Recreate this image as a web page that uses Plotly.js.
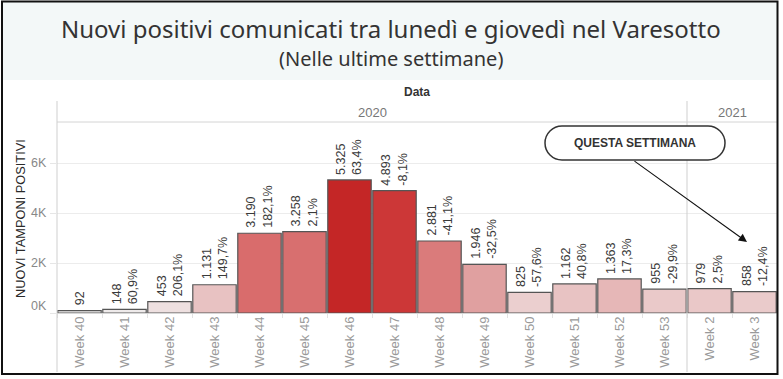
<!DOCTYPE html>
<html>
<head>
<meta charset="utf-8">
<script src="https://cdn.plot.ly/plotly-3.0.1.min.js"></script>
<style>
html,body{margin:0;padding:0;background:#fff;}
#chart{width:783px;height:379px;}
</style>
</head>
<body>
<div id="chart"></div>
<script>
// ---- data ----
const weeks = ['Week 40','Week 41','Week 42','Week 43','Week 44','Week 45','Week 46','Week 47','Week 48','Week 49','Week 50','Week 51','Week 52','Week 53','Week 2','Week 3'];
const positives = [92,148,453,1131,3190,3258,5325,4893,2881,1946,825,1162,1363,955,979,858];
const pctChange = [null,60.9,206.1,149.7,182.1,2.1,63.4,-8.1,-41.1,-32.5,-57.6,40.8,17.3,-29.9,2.5,-12.4];
const years = ['2020','2021'];
const weeksPerYear = [14,2];
const yTickVals = [0,2000,4000,6000];
const yTickText = ['0K','2K','4K','6K'];

// ---- styles ----
const barColors = ['#f1efef','#eeeaea','#eee0e0','#e8c2c2','#d96c6c','#d86f6f','#c42626','#cc3737','#da7b7b','#e0a0a0','#ebcfcf','#e8c3c3','#e6b7b7','#eac9c9','#eac8c8','#eacbcb'];

const W = 783, H = 379;
const M = {l:57, r:6, t:122, b:66};
const plotW = W - M.l - M.r, plotH = H - M.t - M.b;
const px2x = p => (p - M.l) / plotW;
const px2y = p => (H - M.b - p) / plotH;

function fmtInt(v){ return String(v).replace(/\B(?=(\d{3})+(?!\d))/g,'.'); }
function fmtPct(v){ return v.toFixed(1).replace('.',',') + '%'; }

const trace = {
  type:'bar', x:weeks, y:positives,
  marker:{color:barColors, line:{color:'#555555', width:1.2}},
  hoverinfo:'none'
};

const annotations = [];
weeks.forEach((w,i)=>{
  const txt = pctChange[i] === null ? fmtInt(positives[i]) : fmtInt(positives[i]) + '<br>' + fmtPct(pctChange[i]);
  annotations.push({
    x:w, y:positives[i], xref:'x', yref:'y', showarrow:false,
    text:txt, textangle:-90, align:'left', xanchor:'center', yanchor:'bottom', yshift:3,
    font:{size:12.5, color:'#3a3a3a'}
  });
});

// y tick labels (bottom one lifted as in the original)
yTickVals.forEach((v,i)=>{
  annotations.push({x:0, xref:'paper', y:v, yref:'y', text:yTickText[i], showarrow:false,
    xanchor:'right', yanchor:'middle', xshift:-8, yshift: v === 0 ? 7 : 0,
    font:{size:12.5, color:'#888'}});
});

// year headers
const shapes = [];
let start = 0;
years.forEach((yr,k)=>{
  const end = start + weeksPerYear[k] - 1;
  annotations.push({x:(start+end)/2, xref:'x', y:px2y(112), yref:'paper', text:yr, showarrow:false,
    font:{size:13, color:'#777'}, xanchor:'center', yanchor:'middle'});
  if (k > 0) {
    shapes.push({type:'line', xref:'x', yref:'paper', x0:start-0.5, x1:start-0.5, y0:px2y(372), y1:px2y(101),
      line:{color:'#cfcfcf', width:1}});
  }
  start = end + 1;
});

// titles
annotations.push({xref:'paper', yref:'paper', x:px2x(391), y:px2y(28), showarrow:false,
  text:'Nuovi positivi comunicati tra lunedì e giovedì nel Varesotto', font:{family:'"Noto Sans", "Open Sans", sans-serif', size:24, color:'#333'}, xanchor:'center', yanchor:'middle'});
annotations.push({xref:'paper', yref:'paper', x:px2x(391), y:px2y(58), showarrow:false,
  text:'(Nelle ultime settimane)', font:{family:'"Noto Sans", "Open Sans", sans-serif', size:20, color:'#333'}, xanchor:'center', yanchor:'middle'});
annotations.push({xref:'paper', yref:'paper', x:0.5, y:px2y(92), showarrow:false,
  text:'<b>Data</b>', font:{size:12, color:'#333'}, xanchor:'center', yanchor:'middle'});

// y axis title
annotations.push({xref:'paper', yref:'paper', x:px2x(20), y:px2y(219), showarrow:false, textangle:-90,
  text:'NUOVI TAMPONI POSITIVI', font:{size:12.8, color:'#2a2a2a'}, xanchor:'center', yanchor:'middle'});

// callout
annotations.push({xref:'paper', yref:'paper', x:px2x(635), y:px2y(143), showarrow:false,
  text:'<b>QUESTA SETTIMANA</b>', font:{size:12, color:'#333'}, xanchor:'center', yanchor:'middle'});
annotations.push({xref:'paper', yref:'paper', x:px2x(747), y:px2y(242), showarrow:true, text:'',
  ax:633-747, ay:160-242, arrowhead:2, arrowsize:1.5, arrowwidth:1.1, arrowcolor:'#111', standoff:0});

// background band
shapes.push({type:'rect', xref:'paper', yref:'paper', x0:px2x(3), x1:px2x(777), y0:px2y(80), y1:px2y(2),
  fillcolor:'#f3f8f8', line:{width:0}, layer:'below'});
// header line, left axis line
shapes.push({type:'line', xref:'paper', yref:'paper', x0:0, x1:1, y0:1, y1:1, line:{color:'#d4d4d4', width:1}});
shapes.push({type:'line', xref:'paper', yref:'paper', x0:0, x1:0, y0:px2y(372), y1:px2y(101), line:{color:'#cfcfcf', width:1}});
// pill box
(function(){
  const x0=545, x1=725, y0=126, y1=160, r=17, k=0.5523*r;
  const X = px2x, Y = px2y;
  const p = [
    'M', X(x0+r), Y(y0),
    'L', X(x1-r), Y(y0),
    'C', X(x1-r+k), Y(y0), X(x1), Y(y0+r-k), X(x1), Y(y0+r),
    'C', X(x1), Y(y1-r+k), X(x1-r+k), Y(y1), X(x1-r), Y(y1),
    'L', X(x0+r), Y(y1),
    'C', X(x0+r-k), Y(y1), X(x0), Y(y1-r+k), X(x0), Y(y1-r),
    'C', X(x0), Y(y0+r-k), X(x0+r-k), Y(y0), X(x0+r), Y(y0), 'Z'
  ];
  let out = '', nums = [];
  function pairs(a){ let t=''; for(let j=0;j<a.length;j+=2) t += a[j].toFixed(5)+','+a[j+1].toFixed(5)+' '; return t; }
  p.forEach(v=>{
    if (typeof v === 'string') { if (nums.length) { out += pairs(nums); nums = []; } out += v + ' '; }
    else nums.push(v);
  });
  if (nums.length) out += pairs(nums);
  shapes.push({type:'path', xref:'paper', yref:'paper', path:out, fillcolor:'#ffffff', line:{color:'#333', width:1.5}});
})();
// outer border
shapes.push({type:'rect', xref:'paper', yref:'paper', x0:px2x(2), x1:px2x(777.5), y0:px2y(374), y1:px2y(1.5),
  line:{color:'#111', width:2}, fillcolor:'rgba(0,0,0,0)'});

const layout = {
  width:W, height:H, autosize:false,
  margin:{l:M.l, r:M.r, t:M.t, b:M.b, pad:0},
  paper_bgcolor:'#ffffff', plot_bgcolor:'#ffffff',
  font:{family:'"Liberation Sans", Arial, sans-serif', color:'#333'},
  bargap:0.035,
  showlegend:false,
  xaxis:{type:'category', range:[-0.5, weeks.length-0.5], tickangle:-90, tickfont:{size:13, color:'#999'},
    ticks:'outside', tickson:'boundaries', ticklen:4, tickcolor:'#e2e2e2', showgrid:false, showline:false, zeroline:false,
    fixedrange:true},
  yaxis:{range:[0, 7640], tickvals:yTickVals, ticktext:yTickText, showticklabels:false,
    ticks:'outside', ticklen:6, tickcolor:'#e6e6e6', gridcolor:'#ececec', gridwidth:1,
    zeroline:true, zerolinecolor:'#d6d6d6', zerolinewidth:1, showline:false, fixedrange:true},
  annotations:annotations,
  shapes:shapes
};

Plotly.newPlot('chart', [trace], layout, {displayModeBar:false, staticPlot:true});
</script>
</body>
</html>
